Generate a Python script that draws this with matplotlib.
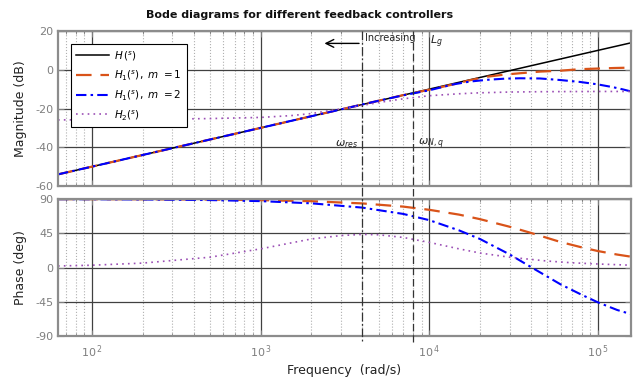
import numpy as np
import matplotlib
matplotlib.use("Agg")
import matplotlib.pyplot as plt
from matplotlib.lines import Line2D
import matplotlib.transforms as mtransforms
from matplotlib.ticker import FixedLocator, NullFormatter

# ---------------- data ----------------
f_min, f_max = 62.83, 157080.0

# H(s)
h_f = [62.83, 100, 1000, 10000, 100000, 157080]
h_mag = [-54.0, -50.0, -30.0, -10.0, 10.0, 13.9]
h_ph = [90, 90, 90, 90, 90, 90]

# H1(s), m = 1
h1a_f = [62.83, 100, 1000, 5000, 7000, 10000, 13800, 17400, 22000, 28000,
         34500, 45400, 59700, 78400, 98900, 125000, 157080]
h1a_mag = [-54.0, -50.0, -30.0, -16.0, -13.1, -10.3, -7.6, -5.4, -3.6, -2.5,
           -1.8, -0.95, -0.5, 0.3, 0.6, 0.9, 1.1]
h1a_pf = [62.83, 100, 200, 500, 1000, 2000, 4000, 7000, 10000, 15000, 20000,
          30000, 40000, 60000, 80000, 100000, 130000, 157080]
h1a_ph = [89.9, 89.8, 89.7, 89.3, 88.5, 87.1, 84.2, 80.0, 75.8, 69.5, 63.5,
          53.5, 45.5, 33.5, 26.5, 21.6, 17.0, 14.2]

# H1(s), m = 2
h1b_f = [62.83, 100, 1000, 5000, 7000, 10000, 13800, 17400, 22000, 28000,
         34500, 45400, 59700, 78400, 98900, 123000, 140000, 157080]
h1b_mag = [-54.0, -50.0, -30.0, -16.0, -13.2, -10.6, -7.6, -6.1, -5.2, -4.6,
           -4.4, -4.5, -5.3, -6.3, -7.5, -9.0, -10.1, -11.2]
h1b_ph = [89.8, 89.7, 89.4, 88.6, 87.2, 84.3, 78.7, 70.4, 62.2, 48.8, 37.4,
          17.1, 0.7, -22.1, -35.8, -45.8, -55.8, -61.3]

# H2(s)
h2_f = [62.83, 100, 200, 500, 1000, 1500, 2000, 2600, 3000, 4000, 5100, 7000,
        10000, 15000, 20000, 30000, 50000, 100000, 157080]
h2_mag = [-25.9, -25.8, -25.6, -25.2, -24.6, -23.7, -22.6, -21.0, -20.2, -18.4,
          -16.8, -15.0, -13.4, -12.4, -11.9, -11.5, -11.3, -11.2, -11.2]
h2_pf = [62.83, 100, 200, 500, 1000, 2000, 3000, 4000, 5000, 7000, 10000,
         15000, 20000, 30000, 50000, 70000, 100000, 157080]
h2_ph = [2.0, 3.0, 5.8, 13.5, 24.5, 37.5, 42.0, 43.5, 43.0, 39.5, 33.0, 24.5,
         19.0, 13.5, 8.5, 6.2, 4.6, 3.0]

w_res = 4000.0
w_nq = 8000.0

mag_ticks = [-60, -40, -20, 0, 20]
ph_ticks = [-90, -45, 0, 45, 90]
x_ticks = [1e2, 1e3, 1e4, 1e5]
x_ticklabels = [r'$10^{\,2}$', r'$10^{\,3}$', r'$10^{\,4}$', r'$10^{\,5}$']

labels = [r'$H\,(^{s})$', r'$H_{1}(^{s}),\ m\ = 1$',
          r'$H_{1}(^{s}),\ m\ = 2$', r'$H_{2}(^{s})$']

# ---------------- styling ----------------
c_orange = '#D95319'
c_blue = '#0000FF'
c_purple = '#9B4FB5'
c_tick = '#7f7f7f'
c_frame = '#8c8c8c'

plt.rcParams['font.family'] = ['DejaVu Sans']
plt.rcParams['mathtext.fontset'] = 'dejavusans'
plt.rcParams['axes.unicode_minus'] = False

W, H = 639, 378
fig = plt.figure(figsize=(W / 100, H / 100), dpi=100)
L, R = 58 / W, 631 / W
ax1 = fig.add_axes([L, 1 - 186 / H, R - L, (186 - 31) / H])
ax2 = fig.add_axes([L, 1 - 336 / H, R - L, (336 - 199) / H])

minor = []
for d in [10, 100, 1000, 10000, 100000]:
    for k in range(2, 10):
        minor.append(k * d)

for ax in (ax1, ax2):
    ax.set_xscale('log')
    ax.set_xlim(f_min, f_max)
    ax.xaxis.set_major_locator(FixedLocator(x_ticks))
    ax.xaxis.set_minor_locator(FixedLocator(minor))
    ax.xaxis.set_minor_formatter(NullFormatter())
    ax.grid(True, which='major', color='#404040', linestyle='-', linewidth=0.9)
    ax.grid(True, which='minor', axis='x', color='#b0b0b0', linestyle=':', linewidth=0.8)
    for sp in ax.spines.values():
        sp.set_color(c_frame)
        sp.set_linewidth(1.6)
    ax.tick_params(which='both', direction='in', color=c_tick, labelcolor=c_tick,
                   labelsize=8, top=True, right=True)
    ax.tick_params(which='major', length=4)
    ax.tick_params(which='minor', length=2)
    ax.set_axisbelow(True)

# magnitude
ax1.plot(h_f, h_mag, color='black', lw=1.1, label=labels[0])
ax1.plot(h1a_f, h1a_mag, color=c_orange, lw=1.6, linestyle=(0, (7, 4)), label=labels[1])
ax1.plot(h1b_f, h1b_mag, color=c_blue, lw=1.5, linestyle=(0, (5, 2, 1.2, 2)), label=labels[2])
ax1.plot(h2_f, h2_mag, color=c_purple, lw=1.2, linestyle=(0, (1, 2.5)), label=labels[3])
ax1.set_ylim(-60, 20)
ax1.set_yticks(mag_ticks)
ax1.set_xticklabels([])
ax1.set_ylabel('Magnitude (dB)', fontsize=9, color='#222222', labelpad=6)

# phase
ax2.plot(h_f, h_ph, color='black', lw=1.1)
ax2.plot(h1a_pf, h1a_ph, color=c_orange, lw=1.6, linestyle=(0, (7, 4)))
ax2.plot(h1a_pf, h1b_ph, color=c_blue, lw=1.5, linestyle=(0, (5, 2, 1.2, 2)))
ax2.plot(h2_pf, h2_ph, color=c_purple, lw=1.2, linestyle=(0, (1, 2.5)))
ax2.set_ylim(-90, 90)
ax2.set_yticks(ph_ticks)
ax2.set_xticklabels(x_ticklabels)
ax2.tick_params(axis='x', which='major', pad=5)
ax2.set_ylabel('Phase (deg)', fontsize=9, color='#222222', labelpad=6)
ax2.set_xlabel('Frequency  (rad/s)', fontsize=9, color='#222222', labelpad=3)

leg = ax1.legend(loc='upper left', bbox_to_anchor=(0.022, 0.916), fontsize=7.5,
                 frameon=True, fancybox=False, edgecolor='black', framealpha=1,
                 handlelength=3.2, borderpad=0.5, labelspacing=0.55, handletextpad=0.5,
                 borderaxespad=0)
leg.get_frame().set_linewidth(0.8)

# vertical marker lines across both axes
tr = mtransforms.blended_transform_factory(ax1.transData, fig.transFigure)
fig.add_artist(Line2D([w_res, w_res], [1 - 31 / H, 1 - 342 / H], transform=tr,
                      color='#333333', lw=0.9, linestyle=(0, (7, 2, 1.5, 2))))
fig.add_artist(Line2D([w_nq, w_nq], [1 - 31 / H, 1 - 342 / H], transform=tr,
                      color='#333333', lw=0.9, linestyle=(0, (6, 3))))

# annotations
ax1.annotate('', xy=(2300, 13.6), xytext=(3980, 13.6),
             arrowprops=dict(arrowstyle='->', lw=1.0, color='black', mutation_scale=14))
ax1.text(4150, 16.3, 'Increasing', fontsize=7, va='center', ha='left', color='#222222')
ax1.text(10150, 14.5, r'$L_{g}$', fontsize=8, va='center', ha='left', color='#222222')
ax1.text(3800, -38.3, r'$\omega_{res}$', fontsize=8, va='center', ha='right', color='#222222')
ax1.text(8600, -38.3, r'$\omega_{N,q}$', fontsize=8, va='center', ha='left', color='#222222')

fig.text(300 / W, 1 - 15 / H, 'Bode diagrams for different feedback controllers',
         fontsize=8, fontweight='bold', ha='center', va='center', color='#111111')

fig.savefig('out.png', dpi=100)
